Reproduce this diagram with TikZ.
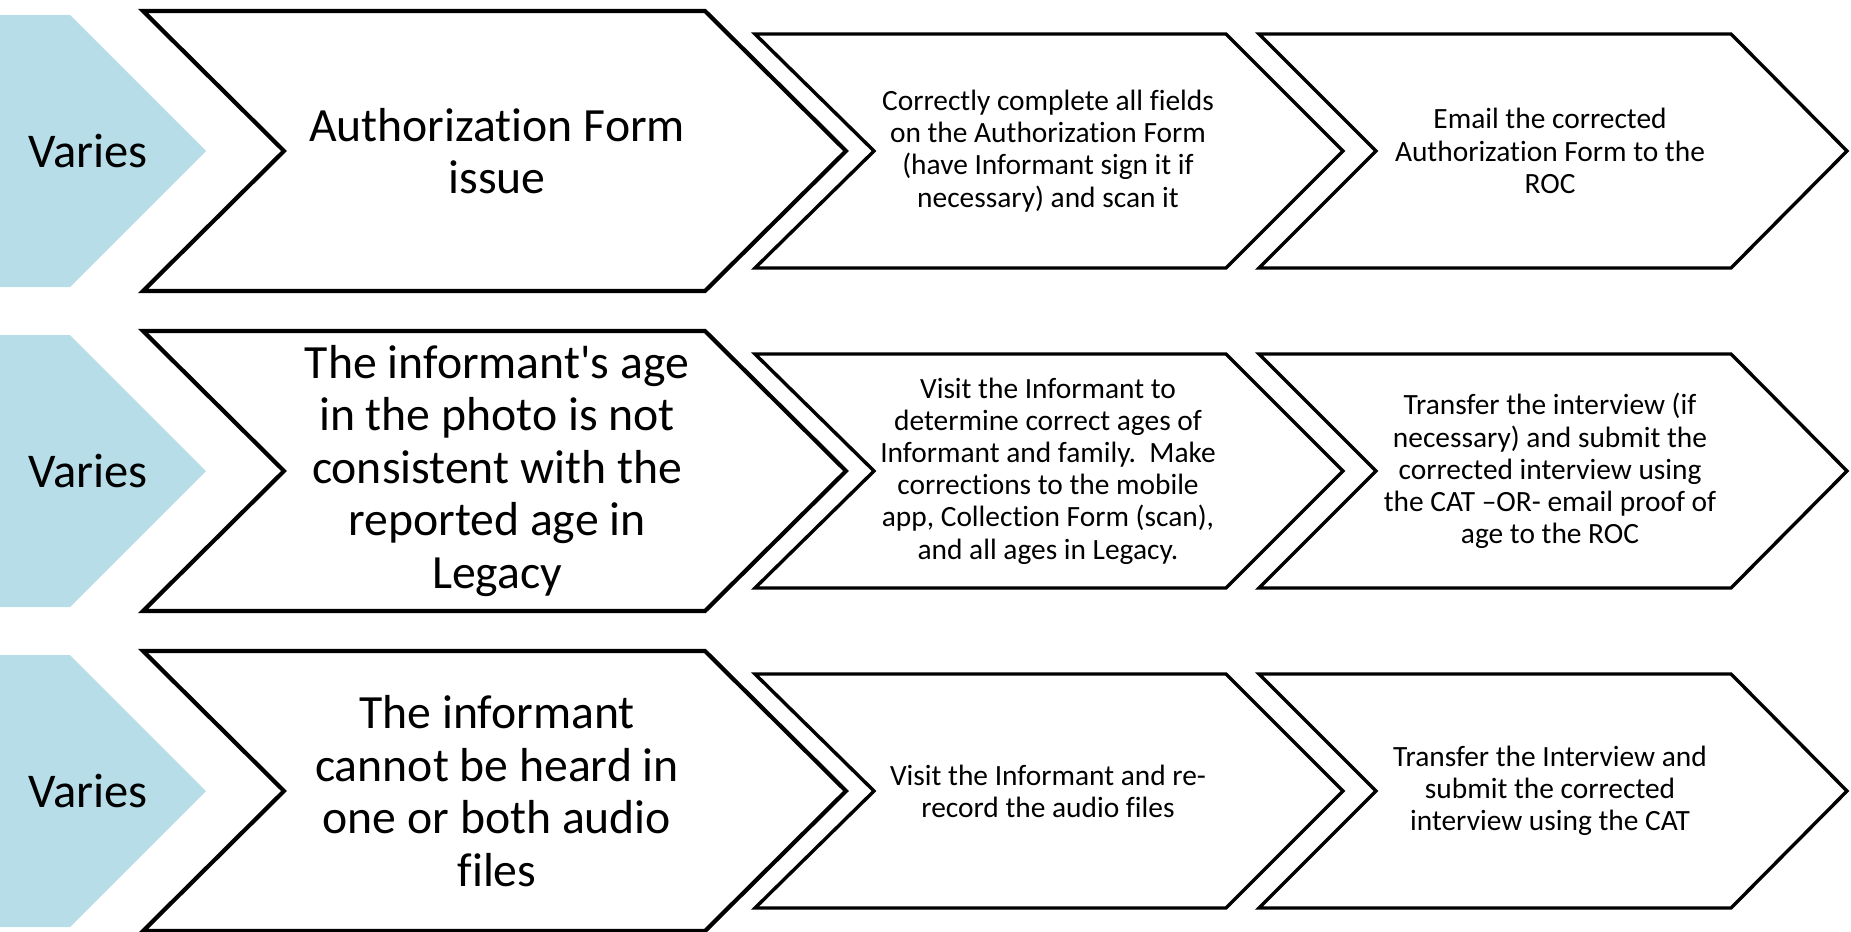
\documentclass[tikz,border=0pt]{standalone}
\usepackage{fontspec}
\setmainfont{Carlito}[Ligatures={TeX,NoCommon}]
\definecolor{chevblue}{RGB}{182,221,232}
\tikzset{
  bigchev/.style={draw=black, fill=white, line width=4.2pt, line join=miter},
  smallchev/.style={draw=black, fill=white, line width=3.4pt, line join=miter},
  bluechev/.style={fill=chevblue, draw=none},
  bigtxt/.style={align=center, font=\fontsize{47.7}{52.5}\selectfont, inner sep=0pt},
  smalltxt/.style={align=center, font=\fontsize{29.4}{32.2}\selectfont, inner sep=0pt},
  varytxt/.style={font=\fontsize{48.5}{52.5}\selectfont, inner sep=0pt}
}
\begin{document}
\begin{tikzpicture}[x=1pt, y=-1pt]
\useasboundingbox (0,0) rectangle (1851,931);
\foreach \yc in {151,471,791} {
  \fill[bluechev] (0,\yc-136) -- (70,\yc-136) -- (206,\yc) -- (70,\yc+136) -- (0,\yc+136) -- cycle;
  \draw[bigchev] (143,\yc-140) -- (705,\yc-140) -- (846,\yc) -- (705,\yc+140) -- (143,\yc+140) -- (284,\yc) -- cycle;
  \draw[smallchev] (755,\yc-117) -- (1226,\yc-117) -- (1343,\yc) -- (1226,\yc+117) -- (755,\yc+117) -- (874,\yc) -- cycle;
  \draw[smallchev] (1259,\yc-117) -- (1731,\yc-117) -- (1847,\yc) -- (1731,\yc+117) -- (1259,\yc+117) -- (1376,\yc) -- cycle;
}
% row 1
\node[varytxt] (v1) at (88,151) {Varies};
\node[bigtxt] (b1) at (497,151) {Authorization Form\\issue};
\node[smalltxt] (s1) at (1048,151) {Correctly complete all fields\\on the Authorization Form\\(have Informant sign it if\\necessary) and scan it};
\node[smalltxt] (t1) at (1550,151) {Email the corrected\\Authorization Form to the\\ROC};
% row 2
\node[varytxt] (v2) at (88,471) {Varies};
\node[bigtxt] (b2) at (497,471) {The informant\textquotesingle s age\\in the photo is not\\consistent with the\\reported age in\\Legacy};
\node[smalltxt] (s2) at (1048,471) {Visit the Informant to\\determine correct ages of\\Informant and family.\ \ Make\\corrections to the mobile\\app, Collection Form (scan),\\and all ages in Legacy.};
\node[smalltxt] (t2) at (1550,471) {Transfer the interview (if\\necessary) and submit the\\corrected interview using\\the CAT –OR- email proof of\\age to the ROC};
% row 3
\node[varytxt] (v3) at (88,791) {Varies};
\node[bigtxt] (b3) at (497,791) {The informant\\cannot be heard in\\one or both audio\\files};
\node[smalltxt] (s3) at (1048,791) {Visit the Informant and re-\\record the audio files};
\node[smalltxt] (t3) at (1550,791) {Transfer the Interview and\\submit the corrected\\interview using the CAT};
\end{tikzpicture}
\end{document}
